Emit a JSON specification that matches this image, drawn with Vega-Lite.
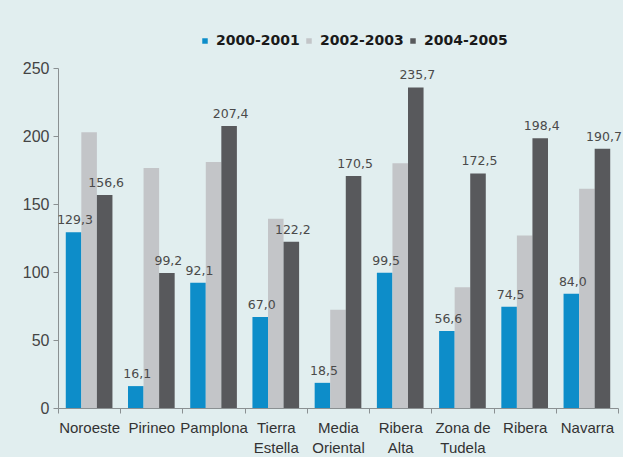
{
  "$schema": "https://vega.github.io/schema/vega-lite/v6.json",
  "width": 560,
  "height": 340,
  "autosize": {"type": "none"},
  "padding": {"left": 58, "top": 68, "right": 5, "bottom": 49},
  "background": "#e1eeef",
  "data": {
    "values": [
      {"region": "Noroeste", "period": "2000-2001", "value": 129.3},
      {"region": "Noroeste", "period": "2002-2003", "value": 202.8},
      {"region": "Noroeste", "period": "2004-2005", "value": 156.6},
      {"region": "Pirineo", "period": "2000-2001", "value": 16.1},
      {"region": "Pirineo", "period": "2002-2003", "value": 176.4},
      {"region": "Pirineo", "period": "2004-2005", "value": 99.2},
      {"region": "Pamplona", "period": "2000-2001", "value": 92.1},
      {"region": "Pamplona", "period": "2002-2003", "value": 180.8},
      {"region": "Pamplona", "period": "2004-2005", "value": 207.4},
      {"region": "Tierra Estella", "period": "2000-2001", "value": 67.0},
      {"region": "Tierra Estella", "period": "2002-2003", "value": 139.1},
      {"region": "Tierra Estella", "period": "2004-2005", "value": 122.2},
      {"region": "Media Oriental", "period": "2000-2001", "value": 18.5},
      {"region": "Media Oriental", "period": "2002-2003", "value": 72.3},
      {"region": "Media Oriental", "period": "2004-2005", "value": 170.5},
      {"region": "Ribera Alta", "period": "2000-2001", "value": 99.5},
      {"region": "Ribera Alta", "period": "2002-2003", "value": 180.0},
      {"region": "Ribera Alta", "period": "2004-2005", "value": 235.7},
      {"region": "Zona de Tudela", "period": "2000-2001", "value": 56.6},
      {"region": "Zona de Tudela", "period": "2002-2003", "value": 88.7},
      {"region": "Zona de Tudela", "period": "2004-2005", "value": 172.5},
      {"region": "Ribera", "period": "2000-2001", "value": 74.5},
      {"region": "Ribera", "period": "2002-2003", "value": 126.9},
      {"region": "Ribera", "period": "2004-2005", "value": 198.4},
      {"region": "Navarra", "period": "2000-2001", "value": 84.0},
      {"region": "Navarra", "period": "2002-2003", "value": 161.2},
      {"region": "Navarra", "period": "2004-2005", "value": 190.7}
    ]
  },
  "encoding": {
    "x": {
      "field": "region",
      "type": "nominal",
      "sort": null,
      "scale": {"paddingInner": 0, "paddingOuter": 0},
      "axis": {
        "title": null,
        "labelAngle": 0,
        "tickBand": "extent",
        "labelOverlap": false,
        "labelExpr": "datum.value == null ? '' : datum.value == 'Zona de Tudela' ? ['Zona de', 'Tudela'] : split(datum.value, ' ')",
        "labelFont": "Liberation Sans",
        "labelFontSize": 15,
        "labelColor": "#333333",
        "labelLineHeight": 20,
        "labelPadding": 7,
        "tickSize": 5,
        "tickColor": "#8a9092",
        "domainColor": "#8a9092"
      }
    },
    "xOffset": {
      "field": "period",
      "type": "nominal",
      "scale": {"paddingInner": 0, "paddingOuter": 0.5}
    },
    "y": {
      "field": "value",
      "type": "quantitative",
      "scale": {"domain": [0, 250], "nice": false},
      "axis": {
        "title": null,
        "grid": false,
        "values": [0, 50, 100, 150, 200, 250],
        "labelFont": "Liberation Sans",
        "labelFontSize": 16,
        "labelColor": "#444444",
        "labelPadding": 4,
        "tickSize": 5,
        "tickColor": "#8a9092",
        "domainColor": "#8a9092"
      }
    }
  },
  "layer": [
    {
      "mark": {"type": "bar"},
      "encoding": {
        "color": {
          "field": "period",
          "type": "nominal",
          "scale": {
            "domain": ["2000-2001", "2002-2003", "2004-2005"],
            "range": ["#0d8dc9", "#c3c5c8", "#58595c"]
          },
          "legend": {
            "title": null,
            "orient": "none",
            "direction": "horizontal",
            "legendX": 140,
            "legendY": -34,
            "padding": 0,
            "symbolType": "square",
            "symbolSize": 30,
            "symbolStrokeWidth": 0,
            "labelFont": "DejaVu Sans",
            "labelFontWeight": "bold",
            "labelFontSize": 14,
            "labelColor": "#1a1a1a",
            "labelOffset": 4,
            "columnPadding": 2
          }
        }
      }
    },
    {
      "transform": [{"filter": "datum.period != '2002-2003'"}],
      "mark": {
        "type": "text",
        "baseline": "bottom",
        "align": "center",
        "dy": -5,
        "dx": 1.5,
        "font": "DejaVu Sans",
        "fontSize": 12.5,
        "color": "#4a4a4a"
      },
      "encoding": {
        "text": {"field": "value", "type": "quantitative", "format": ".1f"}
      }
    }
  ],
  "config": {
    "view": {"stroke": null},
    "locale": {
      "number": {
        "decimal": ",",
        "thousands": ".",
        "grouping": [3],
        "currency": ["", " €"]
      }
    }
  }
}
